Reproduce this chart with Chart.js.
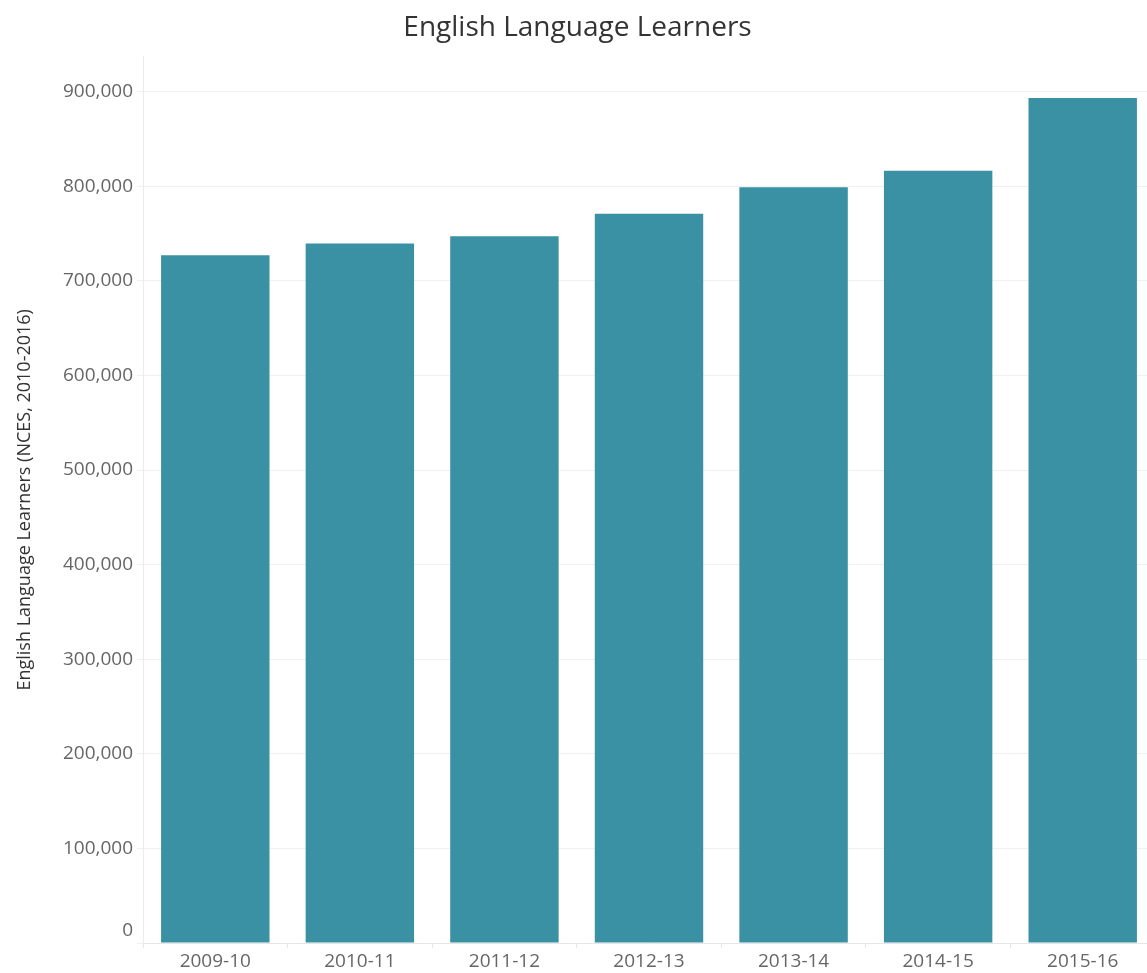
<!DOCTYPE html>
<html lang="en">
<head>
  <meta charset="UTF-8">
  <title>English Language Learners</title>
  <script src="https://cdn.jsdelivr.net/npm/chart.js"></script>
  <style>
    body {
      margin: 0;
      padding: 0;
      background: #ffffff;
      overflow: hidden;
    }

    #chart-container {
      width: 1160px;
      height: 973px;
    }
  </style>
</head>
<body>
  <div id="chart-container">
    <canvas id="ellChart"></canvas>
  </div>

  <script>
    // school years and learner counts
    const years = ['2009-10', '2010-11', '2011-12', '2012-13', '2013-14', '2014-15', '2015-16'];
    const learners = [727000, 739500, 747200, 771000, 799000, 816400, 893200];
    const yTicks = [0, 100000, 200000, 300000, 400000, 500000, 600000, 700000, 800000, 900000];

    const FONT = "'Open Sans', sans-serif";

    // lift the "0" label so it sits above the baseline
    const liftZeroLabel = {
      id: 'liftZeroLabel',
      beforeDraw(chart) {
        const scale = chart.scales.y;
        const items = scale.getLabelItems();
        items.forEach((item, i) => {
          if (scale.ticks[i] && scale.ticks[i].value === 0 && !item._lifted) {
            item.options.translation[1] -= 12;
            item._lifted = true;
          }
        });
      },
    };

    const ctx = document.getElementById('ellChart').getContext('2d');

    new Chart(ctx, {
      type: 'bar',
      data: {
        labels: years,
        datasets: [{
          label: 'English Language Learners',
          data: learners,
          backgroundColor: '#3a91a3',
          borderWidth: 0,
          categoryPercentage: 0.75,
          barPercentage: 1.0,
        }],
      },
      plugins: [liftZeroLabel],
      options: {
        responsive: true,
        maintainAspectRatio: false,
        animation: false,
        layout: {
          padding: { left: 0, right: 5, top: 0, bottom: 0 },
        },
        plugins: {
          legend: { display: false },
          tooltip: { enabled: false },
          title: {
            display: true,
            text: 'English Language Learners',
            color: '#333333',
            font: { family: FONT, size: 28, weight: 'normal' },
            padding: { top: 11, bottom: 12 },
          },
        },
        scales: {
          x: {
            afterFit: (scale) => { scale.height = 30; },
            grid: {
              offset: true,
              drawOnChartArea: false,
              color: '#e6e6e6',
              tickLength: 5,
            },
            border: { color: '#e6e6e6' },
            ticks: {
              color: '#666666',
              font: { family: FONT, size: 19 },
              padding: 2,
              maxRotation: 0,
            },
          },
          y: {
            min: 0,
            max: 937000,
            afterFit: (scale) => { scale.width = 143; },
            afterBuildTicks: (scale) => {
              scale.ticks = yTicks.map(v => ({ value: v }));
            },
            grid: {
              color: '#f0f0f0',
              tickLength: 6,
            },
            border: { color: '#ebebeb' },
            ticks: {
              color: '#666666',
              font: { family: FONT, size: 19 },
              padding: 4,
              callback: (v) => v.toLocaleString('en-US'),
            },
            title: {
              display: true,
              text: 'English Language Learners (NCES, 2010-2016)',
              color: '#333333',
              font: { family: FONT, size: 18 },
              padding: { top: 14, bottom: 0 },
            },
          },
        },
      },
    });
  </script>
</body>
</html>
